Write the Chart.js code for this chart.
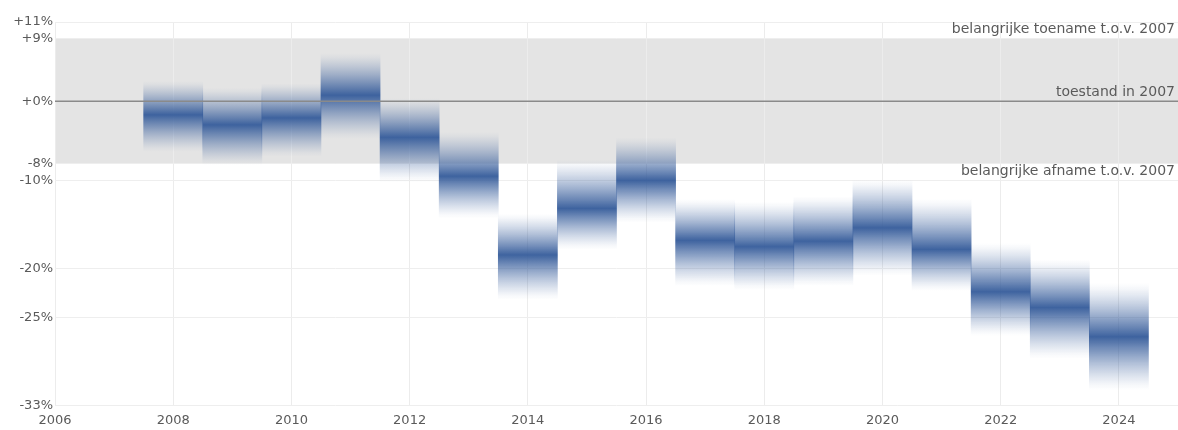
<!DOCTYPE html>
<html>
<head>
<meta charset="utf-8">
<script src="https://cdn.jsdelivr.net/npm/chart.js@4"></script>
<style>
  html, body { margin: 0; padding: 0; background: #ffffff; }
  #wrap { width: 1178px; height: 430px; position: relative; }
</style>
</head>
<body>
<div id="wrap"><canvas id="c"></canvas></div>
<script>
// ---- data (percent change vs 2007) ----
const years   = [2008, 2009, 2010, 2011, 2012, 2013, 2014, 2015, 2016, 2017, 2018, 2019, 2020, 2021, 2022, 2023, 2024];
const central = [-1.8, -3.1, -2.2, 0.8, -4.7, -9.5, -18.5, -13.3, -10.0, -16.9, -17.6, -17.0, -15.5, -17.9, -22.4, -24.0, -26.9];
const lower   = [-6.5, -8.1, -7.1, -4.9, -10.2, -14.4, -23.2, -17.9, -14.9, -21.8, -22.2, -21.8, -20.7, -22.3, -26.8, -29.0, -31.9];
const upper   = [2.7, 1.8, 2.4, 6.6, 0.4, -4.0, -13.9, -7.5, -4.7, -12.2, -12.5, -11.9, -9.9, -12.2, -17.2, -19.0, -21.5];

const xTicks      = [2006, 2008, 2010, 2012, 2014, 2016, 2018, 2020, 2022, 2024];
const yTickValues = [11.11, 8.7, 0, -8, -10, -20, -25, -33.33];
const yTickLabels = ['+11%', '+9%', '+0%', '-8%', '-10%', '-20%', '-25%', '-33%'];

const bandUpper = 8.7;
const bandLower = -8;
const refValue = 0;
const labelUp = 'belangrijke toename t.o.v. 2007';
const labelRef = 'toestand in 2007';
const labelDown = 'belangrijke afname t.o.v. 2007';

const idx = p => 100 * (1 + p / 100);

const BLUE = [56, 94, 156];
function alphaAt(u) {
  return 0.97 * Math.pow(Math.max(0, 1 - u), 1.3);
}

function gradientFor(ctx) {
  const chart = ctx.chart;
  const ys = chart.scales && chart.scales.y;
  const fallback = 'rgba(56,94,156,0.4)';
  if (!ys || ctx.type !== 'data') return fallback;
  const i = ctx.dataIndex;
  const top = ys.getPixelForValue(idx(upper[i]));
  const bot = ys.getPixelForValue(idx(lower[i]));
  const c = ys.getPixelForValue(idx(central[i]));
  if (!isFinite(top) || !isFinite(bot) || !isFinite(c) || bot - top < 1) return fallback;
  const g = chart.ctx.createLinearGradient(0, top, 0, bot);
  const tc = Math.min(0.98, Math.max(0.02, (c - top) / (bot - top)));
  const us = [1, 0.9, 0.8, 0.7, 0.6, 0.5, 0.4, 0.3, 0.2, 0.1, 0];
  us.forEach(u => {
    g.addColorStop(tc - u * tc, `rgba(${BLUE[0]},${BLUE[1]},${BLUE[2]},${alphaAt(u)})`);
  });
  us.slice().reverse().forEach(u => {
    if (u === 0) return;
    g.addColorStop(tc + u * (1 - tc), `rgba(${BLUE[0]},${BLUE[1]},${BLUE[2]},${alphaAt(u)})`);
  });
  return g;
}

const bandPlugin = {
  id: 'band',
  beforeDraw(chart) {
    const { ctx, chartArea, scales } = chart;
    const y1 = scales.y.getPixelForValue(idx(bandUpper));
    const y2 = scales.y.getPixelForValue(idx(bandLower));
    ctx.save();
    ctx.fillStyle = '#e4e4e4';
    ctx.fillRect(chartArea.left, y1, chartArea.right - chartArea.left, y2 - y1);
    ctx.restore();
  },
  afterDatasetsDraw(chart) {
    const { ctx, chartArea, scales } = chart;
    const y0 = scales.y.getPixelForValue(idx(refValue));
    ctx.save();
    ctx.strokeStyle = '#8a8a8a';
    ctx.lineWidth = 1.5;
    ctx.beginPath();
    ctx.moveTo(chartArea.left, y0);
    ctx.lineTo(chartArea.right, y0);
    ctx.stroke();
    const y1 = scales.y.getPixelForValue(idx(bandUpper));
    const y2 = scales.y.getPixelForValue(idx(bandLower));
    ctx.fillStyle = '#5a5a5a';
    ctx.font = '14px "DejaVu Sans"';
    ctx.textAlign = 'right';
    ctx.textBaseline = 'middle';
    const xr = chartArea.right - 3;
    ctx.fillText(labelUp, xr, y1 - 9);
    ctx.fillText(labelRef, xr, y0 - 9);
    ctx.fillText(labelDown, xr, y2 + 7);
    ctx.restore();
  }
};

Chart.defaults.font.family = '"DejaVu Sans", Verdana, sans-serif';
Chart.defaults.font.size = 13;
Chart.defaults.color = '#5a5a5a';

new Chart(document.getElementById('c'), {
  type: 'bar',
  data: {
    datasets: [{
      data: years.map((y, i) => ({ x: y, y: [idx(lower[i]), idx(upper[i])] })),
      backgroundColor: gradientFor,
      borderWidth: 0,
      borderSkipped: false,
      barPercentage: 1,
      categoryPercentage: 1
    }]
  },
  options: {
    responsive: true,
    maintainAspectRatio: false,
    animation: false,
    events: [],
    layout: { padding: { top: 22, right: 0, left: 0, bottom: 0 } },
    plugins: { legend: { display: false }, tooltip: { enabled: false } },
    scales: {
      x: {
        type: 'linear',
        min: 2006,
        max: 2025,
        offset: false,
        grid: { offset: false, color: '#ececec', drawTicks: false },
        border: { display: false },
        afterBuildTicks(scale) { scale.ticks = xTicks.map(v => ({ value: v })); },
        afterFit(scale) { scale.height = 24; },
        ticks: { padding: 7, maxRotation: 0, autoSkip: false, callback: v => String(v) }
      },
      y: {
        type: 'logarithmic',
        min: idx(-33.333),
        max: idx(11.111),
        beginAtZero: false,
        grid: { color: '#eeeeee', drawTicks: false },
        border: { display: false },
        afterBuildTicks(scale) { scale.ticks = yTickValues.map(v => ({ value: idx(v) })); },
        afterFit(scale) { scale.width = 55; },
        ticks: { padding: 2, autoSkip: false, callback: (v, i) => yTickLabels[i] }
      }
    }
  },
  plugins: [bandPlugin]
});
</script>
</body>
</html>
